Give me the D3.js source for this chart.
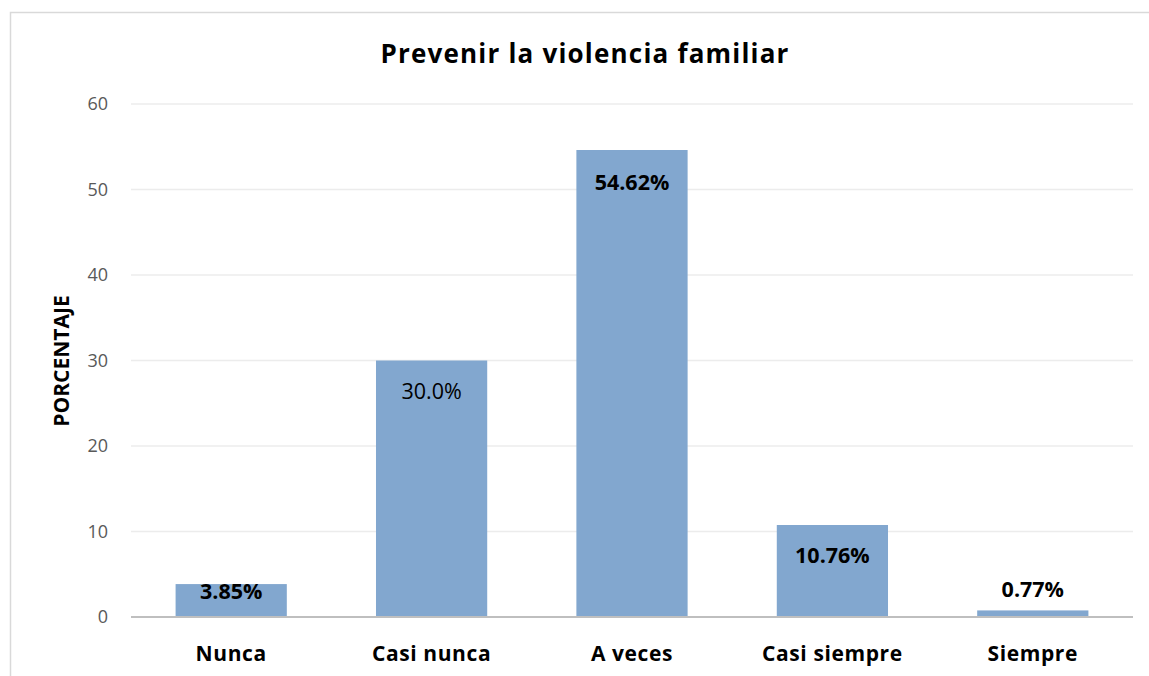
<!DOCTYPE html>
<html>
<head>
<meta charset="utf-8">
<script src="https://cdn.jsdelivr.net/npm/d3@7"></script>
<style>
  body { margin: 0; background: #fff; }
  svg { font-family: "Open Sans", sans-serif; }
</style>
</head>
<body>
<svg id="chart" width="1149" height="676"></svg>
<script>
// values
const categories = ["Nunca", "Casi nunca", "A veces", "Casi siempre", "Siempre"];
const values = [3.85, 30.0, 54.62, 10.76, 0.77];
const labels = ["3.85%", "30.0%", "54.62%", "10.76%", "0.77%"];
const yTicks = [0, 10, 20, 30, 40, 50, 60];

let width = 1149, height = 676;
let margin = {left: 131, right: 16, top: 104, bottom: 59};

let svg = d3.select("#chart");

// outer chart border
svg.append("rect")
  .attr("x", 10.5).attr("y", 12.5)
  .attr("width", 1200).attr("height", 700)
  .attr("fill", "none").attr("stroke", "#d9d9d9").attr("stroke-width", 1.5);

let x = d3.scaleBand()
  .domain(categories)
  .range([margin.left, width - margin.right])
  .paddingInner(0.445).paddingOuter(0.2225);

let y = d3.scaleLinear()
  .domain([0, 60])
  .range([height - margin.bottom, margin.top]);

// grid
svg.append("g").selectAll("line")
  .data(yTicks.filter(d => d > 0))
  .enter().append("line")
  .attr("x1", margin.left).attr("x2", width - margin.right)
  .attr("y1", d => y(d)).attr("y2", d => y(d))
  .attr("stroke", "#ececec").attr("stroke-width", 1.3);

// y tick labels
svg.append("g").selectAll("text")
  .data(yTicks)
  .enter().append("text")
  .attr("x", 108).attr("y", d => y(d))
  .attr("dy", "0.35em")
  .attr("text-anchor", "end")
  .attr("fill", "#595959")
  .style("font-size", "18px")
  .text(d => d);

// bars
svg.append("g").selectAll("rect")
  .data(values)
  .enter().append("rect")
  .attr("x", (d, i) => x(categories[i]))
  .attr("width", x.bandwidth())
  .attr("y", d => y(d))
  .attr("height", d => y(0) - y(d))
  .attr("fill", "#82a7cf");

// x axis line
svg.append("line")
  .attr("x1", margin.left).attr("x2", width - margin.right)
  .attr("y1", y(0)).attr("y2", y(0))
  .attr("stroke", "#bfbfbf").attr("stroke-width", 2);

// data labels (inside end; short bars get squeezed, last one sits on top)
let labelOffset = [15, 38, 40, 38, -13];
svg.append("g").selectAll("text")
  .data(values)
  .enter().append("text")
  .attr("x", (d, i) => x(categories[i]) + x.bandwidth() / 2)
  .attr("y", (d, i) => y(d) + labelOffset[i])
  .attr("text-anchor", "middle")
  .style("font-size", "21.5px")
  .style("font-weight", (d, i) => i == 1 ? "normal" : "bold")
  .attr("fill", "#000")
  .text((d, i) => labels[i]);

// category labels
svg.append("g").selectAll("text")
  .data(categories)
  .enter().append("text")
  .attr("x", d => x(d) + x.bandwidth() / 2)
  .attr("y", 661)
  .attr("text-anchor", "middle")
  .style("font-size", "21px")
  .style("font-weight", "bold")
  .style("letter-spacing", "0.6px")
  .attr("fill", "#000")
  .text(d => d);

// title
svg.append("text")
  .attr("x", 585).attr("y", 63)
  .attr("text-anchor", "middle")
  .style("font-size", "26px")
  .style("font-weight", "bold")
  .style("letter-spacing", "1.2px")
  .attr("fill", "#000")
  .text("Prevenir la violencia familiar");

// y axis title
svg.append("text")
  .attr("transform", "translate(69,361) rotate(-90)")
  .attr("text-anchor", "middle")
  .style("font-size", "21px")
  .style("font-weight", "bold")
  .attr("fill", "#000")
  .text("PORCENTAJE");
</script>
</body>
</html>
